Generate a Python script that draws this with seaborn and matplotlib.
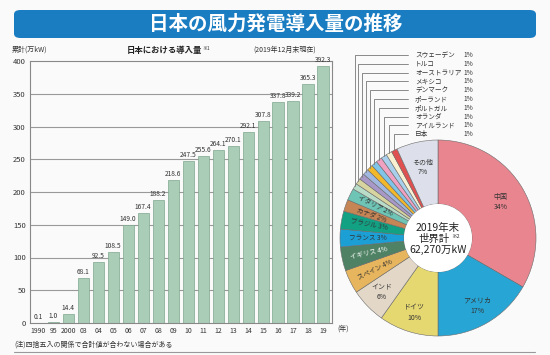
import numpy as np
import pandas as pd
import matplotlib
matplotlib.use("Agg")
import matplotlib.pyplot as plt
from matplotlib.patches import FancyBboxPatch
import seaborn as sns

sns.set_theme(style="white")
plt.rcParams['font.family'] = ['Noto Sans CJK JP', 'DejaVu Sans']

# --- data ---
years = ["1990", "95", "2000", "03", "04", "05", "06", "07", "08", "09",
         "10", "11", "12", "13", "14", "15", "16", "17", "18", "19"]
capacity = [0.1, 1.0, 14.4, 68.1, 92.5, 108.5, 149.0, 167.4, 188.2, 218.6,
            247.5, 255.6, 264.1, 270.1, 292.1, 307.8, 337.8, 339.2, 365.3, 392.3]

countries = ["中国", "アメリカ", "ドイツ", "インド", "スペイン", "イギリス", "フランス",
             "ブラジル", "カナダ", "イタリア", "スウェーデン", "トルコ", "オーストラリア",
             "メキシコ", "デンマーク", "ポーランド", "ポルトガル", "オランダ", "アイルランド",
             "日本", "その他"]
shares = [34, 17, 10, 6, 4, 4, 3, 3, 2, 2, 1, 1, 1, 1, 1, 1, 1, 1, 1, 1, 7]
pie_colors = ["#e9858f", "#27a6d6", "#e6d871", "#e3d7c8", "#e7b55d", "#4f8264",
              "#1c9fd5", "#13a184", "#c68555", "#6ec5b5", "#b8dcc8", "#d8d4a0",
              "#a898c8", "#a0b8e0", "#f2b82a", "#80c4e8", "#f0a0c0", "#a8d0ec",
              "#f8f0d0", "#e05050", "#dde0ea"]

W, H = 550, 355
bg = "#fafafa"
fig = plt.figure(figsize=(W / 100, H / 100), dpi=100, facecolor=bg)

# title banner
banner = FancyBboxPatch((14 / W, 1 - 38 / H), 522 / W, 28 / H,
                        boxstyle="round,pad=0,rounding_size=0.012",
                        transform=fig.transFigure, facecolor="#1a7cc1",
                        edgecolor="none")
fig.patches.append(banner)
fig.text(276 / W, 1 - 24 / H, "日本の風力発電導入量の推移", color="white",
         fontsize=14, fontweight="bold", ha="center", va="center")

# --- bar chart ---
df = pd.DataFrame({"year": years, "cap": capacity})
ax = fig.add_axes([30 / W, 1 - 323 / H, 302 / W, 262 / H])
ax.set_facecolor(bg)
for v in range(50, 400, 50):
    ax.axhline(v, color="#999999", lw=0.8, zorder=0)
sns.barplot(data=df, x="year", y="cap", color="#a9cdb6", saturation=1,
            width=0.74, edgecolor="#7fa88e", linewidth=0.5, ax=ax, zorder=2)
for i, v in enumerate(capacity):
    ax.text(i, v + 3, f"{v:.1f}", ha="center", va="bottom", fontsize=4.8,
            color="#333333")
ax.set_xlim(-0.55, 19.6)
ax.set_ylim(0, 400)
ax.set_yticks(range(0, 401, 50))
ax.tick_params(axis="both", length=0, colors="#333333", pad=3)
ax.tick_params(axis="x", labelsize=5)
ax.tick_params(axis="y", labelsize=5.5)
ax.set_xlabel("")
ax.set_ylabel("")
for s in ax.spines.values():
    s.set_color("#888888")
    s.set_linewidth(0.8)

fig.text(343 / W, 1 - 329 / H, "(年)", fontsize=5, ha="center", va="center",
         color="#333333")
fig.text(12 / W, 1 - 50 / H, "累計(万kW)", fontsize=5, ha="left", va="center",
         color="#333333")
fig.text(164 / W, 1 - 50 / H, "日本における導入量", fontsize=6, ha="center",
         va="center", fontweight="bold", color="#222222")
fig.text(202 / W, 1 - 48 / H, "※1", fontsize=3.5, ha="left", va="center",
         color="#333333")
fig.text(316 / W, 1 - 50 / H, "(2019年12月末現在)", fontsize=5, ha="right",
         va="center", color="#333333")
fig.text(14 / W, 1 - 345 / H, "(注)四捨五入の関係で合計値が合わない場合がある",
         fontsize=5, ha="left", va="center", color="#333333")
fig.add_artist(plt.Line2D([14 / W, 535 / W], [1 - 352 / H, 1 - 352 / H],
                          color="#999999", lw=0.8))

# --- donut ---
cx, cy, R = 438, 238, 98
ax2 = fig.add_axes([(cx - R) / W, 1 - (cy + R) / H, 2 * R / W, 2 * R / H])
wedges, _ = ax2.pie(shares, colors=pie_colors, startangle=90, counterclock=False,
                    wedgeprops=dict(width=0.653, edgecolor="#6a6a6a", linewidth=0.4))
ax2.set_xlim(-1, 1)
ax2.set_ylim(-1, 1)

for i, w in enumerate(wedges):
    mid = np.deg2rad((w.theta1 + w.theta2) / 2)
    name, pct = countries[i], shares[i]
    if i < 4 or name == "その他":
        rr = 0.74 if i < 1 or name == "その他" else 0.8
        ax2.text(rr * np.cos(mid), rr * np.sin(mid), f"{name}\n{pct}%",
                 ha="center", va="center", fontsize=5, color="#333333",
                 linespacing=1.3)
    elif i < 10:
        rot = np.rad2deg(mid) - 180
        ax2.text(0.72 * np.cos(mid), 0.72 * np.sin(mid), f"{name} {pct}%",
                 ha="center", va="center", fontsize=4.8, rotation=rot,
                 rotation_mode="anchor",
                 color="white" if name == "イギリス" else "#333333")
    else:
        k = i - 10
        x0, y0 = np.cos(mid), np.sin(mid)
        ly = (cy - (55 + 8.8 * k)) / R
        ax2.plot([x0, x0, (408 - cx) / R], [y0, ly, ly], color="#777777",
                 lw=0.6, clip_on=False)
        ax2.text((415 - cx) / R, ly, name, ha="left", va="center",
                 fontsize=4.8, color="#333333")
        ax2.text((463 - cx) / R, ly, f"{pct}%", ha="left", va="center",
                 fontsize=4.8, color="#333333")

ax2.add_patch(plt.Circle((0, 0), 0.347, facecolor="white", edgecolor="none"))
ax2.text(0, (cy - 228) / R, "2019年末", ha="center", va="center", fontsize=7.5,
         color="#222222")
ax2.text(-0.04, (cy - 239) / R, "世界計", ha="center", va="center", fontsize=7.5,
         color="#222222")
ax2.text(0.13, (cy - 237) / R, "※2", ha="left", va="center", fontsize=4,
         color="#333333")
ax2.text(0, (cy - 250) / R, "62,270万kW", ha="center", va="center", fontsize=7.5,
         color="#222222")

fig.savefig("out.png", dpi=100, facecolor=bg)
